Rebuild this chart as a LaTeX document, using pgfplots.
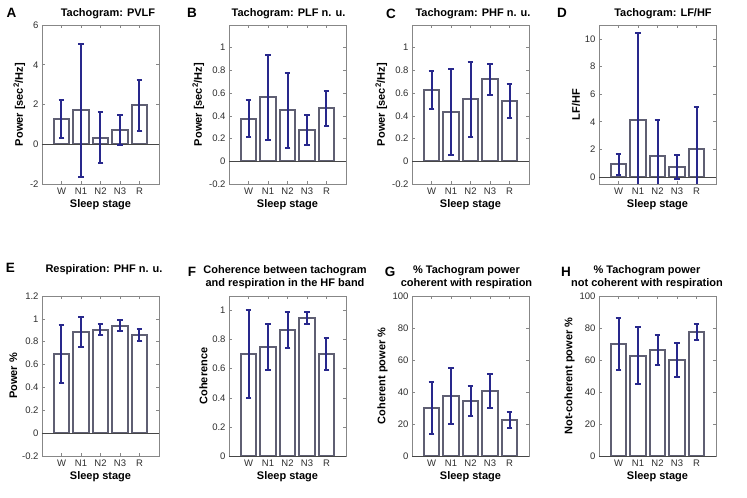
\documentclass[border=0pt]{standalone}
\usepackage{pgfplots}
\usepackage{pgfplotstable}
\pgfplotsset{compat=1.18}
\usepackage{fontspec}
\setmainfont{Liberation Sans}
\definecolor{barcol}{RGB}{95,95,115}
\definecolor{errcol}{RGB}{40,40,140}
\definecolor{axisgray}{RGB}{135,135,135}
\definecolor{ticktext}{RGB}{45,45,45}
\definecolor{basecol}{RGB}{70,70,70}

\pgfplotstableread{
x y e
1 1.27 0.95
2 1.70 3.35
3 0.33 1.29
4 0.70 0.75
5 1.95 1.27
}\dataA
\pgfplotstableread{
x y e
1 0.376 0.163
2 0.562 0.377
3 0.450 0.330
4 0.274 0.133
5 0.468 0.153
}\dataB
\pgfplotstableread{
x y e
1 0.626 0.166
2 0.434 0.375
3 0.546 0.332
4 0.721 0.137
5 0.531 0.153
}\dataC
\pgfplotstableread{
x y e
1 0.92 0.77
2 4.15 6.30
3 1.50 2.60
4 0.72 0.85
5 2.00 3.05
}\dataD
\pgfplotstableread{
x y e
1 0.695 0.255
2 0.884 0.128
3 0.903 0.048
4 0.940 0.047
5 0.860 0.055
}\dataE
\pgfplotstableread{
x y e
1 0.702 0.300
2 0.752 0.158
3 0.865 0.124
4 0.950 0.040
5 0.702 0.112
}\dataF
\pgfplotstableread{
x y e
1 30.1 16.3
2 37.6 17.4
3 34.3 9.2
4 40.5 10.8
5 22.5 5.0
}\dataG
\pgfplotstableread{
x y e
1 70.1 16.4
2 62.8 18.0
3 66.1 9.3
4 60.0 10.7
5 77.8 5.0
}\dataH

\pgfplotsset{
  panel/.style={
    scale only axis, width=117pt,
    anchor=south west,
    xmin=0, xmax=6, xtick={1,2,3,4,5}, xticklabels={W,N1,N2,N3,R},
    tick align=inside, major tick length=3pt,
    axis line style={axisgray, line width=0.8pt},
    every tick/.style={axisgray, line width=0.6pt},
    tick label style={font=\fontsize{9.5}{11}\selectfont, text=ticktext},
    label style={font=\bfseries\fontsize{11}{13}\selectfont, text=black},
    xlabel={Sleep stage},
    xlabel style={yshift=2pt},
    ylabel style={yshift=-2pt},
    /pgf/number format/assume math mode=true,
    yticklabel style={/pgf/number format/fixed},
  },
  toprow/.style={height=159pt},
  botrow/.style={height=160pt},
}
\newcommand{\panelbars}[1]{%
  \addplot[ybar, bar width=0.8, fill=white, draw=barcol, line width=2pt, forget plot]
     table[x=x, y=y] {#1};
  \addplot[basecol, line width=0.8pt, forget plot] coordinates {(0,0) (6,0)};
  \addplot[draw=none, mark=none, forget plot,
     error bars/.cd, y dir=both, y explicit, error mark=|,
     error bar style={draw=errcol, solid, line width=2pt},
     error mark options={draw=errcol, solid, mark size=2.8pt, line width=2pt}]
     table[x=x, y=y, y error=e] {#1};
}

\begin{document}
\begin{tikzpicture}
\useasboundingbox (0pt,0pt) rectangle (747pt,498pt);

% ---- Top row ----
\begin{axis}[panel, toprow, at={(42pt,314pt)},
  ymin=-2, ymax=6, ytick={-2,0,2,4,6},
  ylabel={Power [sec\textsuperscript{2}/Hz]}]
\panelbars{\dataA}
\end{axis}

\begin{axis}[panel, toprow, at={(229pt,314pt)},
  ymin=-0.2, ymax=1.2, ytick={-0.2,0,0.2,0.4,0.6,0.8,1},
  ylabel={Power [sec\textsuperscript{2}/Hz]}]
\panelbars{\dataB}
\end{axis}

\begin{axis}[panel, toprow, at={(412pt,314pt)},
  ymin=-0.2, ymax=1.2, ytick={-0.2,0,0.2,0.4,0.6,0.8,1},
  ylabel={Power [sec\textsuperscript{2}/Hz]}]
\panelbars{\dataC}
\end{axis}

\begin{axis}[panel, toprow, at={(599pt,314pt)},
  ymin=-0.5, ymax=11, ytick={0,2,4,6,8,10},
  ylabel={LF/HF}]
\panelbars{\dataD}
\end{axis}

% ---- Bottom row ----
\begin{axis}[panel, botrow, at={(42pt,42pt)},
  ymin=-0.2, ymax=1.2, ytick={-0.2,0,0.2,0.4,0.6,0.8,1,1.2},
  ylabel={Power \%}]
\panelbars{\dataE}
\end{axis}

\begin{axis}[panel, botrow, at={(229pt,42pt)},
  ymin=0, ymax=1.1, ytick={0,0.2,0.4,0.6,0.8,1},
  ylabel={Coherence}]
\panelbars{\dataF}
\end{axis}

\begin{axis}[panel, botrow, at={(412pt,42pt)},
  ymin=0, ymax=100, ytick={0,20,40,60,80,100},
  ylabel={Coherent power \%}]
\panelbars{\dataG}
\end{axis}

\begin{axis}[panel, botrow, at={(599pt,42pt)},
  ymin=0, ymax=100, ytick={0,20,40,60,80,100},
  ylabel={Not-coherent power \%}]
\panelbars{\dataH}
\end{axis}

% ---- Titles ----
\tikzset{ttl/.style={font=\bfseries\fontsize{11}{12.5}\selectfont, align=center, inner sep=0pt},
         lett/.style={font=\bfseries\fontsize{13.5}{15}\selectfont, inner sep=0pt}}
\node[ttl] at (108pt,484.5pt) {Tachogram: PVLF};
\node[ttl] at (288.5pt,484pt) {Tachogram: PLF n. u.};
\node[ttl] at (473pt,484pt) {Tachogram: PHF n. u.};
\node[ttl] at (663pt,484.5pt) {Tachogram: LF/HF};
\node[ttl] at (104pt,228pt) {Respiration: PHF n. u.};
\node[ttl] at (285pt,221pt) {Coherence between tachogram\\and respiration in the HF band};
\node[ttl] at (466.5pt,221pt) {\% Tachogram power\\coherent with respiration};
\node[ttl] at (647pt,221pt) {\% Tachogram power\\not coherent with respiration};

\node[lett] at (11.5pt,485pt) {A};
\node[lett] at (192pt,485pt) {B};
\node[lett] at (391pt,484.5pt) {C};
\node[lett] at (562pt,485pt) {D};
\node[lett] at (10.5pt,230pt) {E};
\node[lett] at (192pt,226pt) {F};
\node[lett] at (390pt,226.5pt) {G};
\node[lett] at (566pt,226.5pt) {H};
\end{tikzpicture}
\end{document}
